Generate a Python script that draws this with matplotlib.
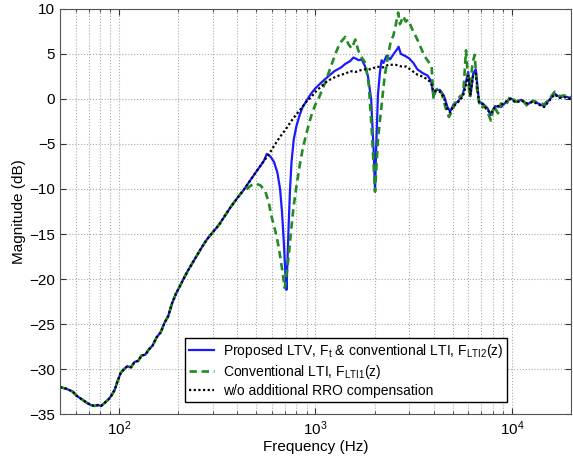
import matplotlib
matplotlib.use("Agg")
import matplotlib.pyplot as plt
from matplotlib.ticker import LogLocator, NullFormatter

plt.rcParams["font.family"] = ["Liberation Sans", "DejaVu Sans"]
plt.rcParams["mathtext.fontset"] = "custom"
plt.rcParams["mathtext.rm"] = "Liberation Sans"
plt.rcParams["mathtext.it"] = "Liberation Sans:italic"
plt.rcParams["mathtext.default"] = "regular"

# 低频段三条曲线重合的部分
freq_low = [50, 54, 58, 61, 65, 69, 72, 75, 78, 81, 84, 88, 91, 95, 98, 102,
            106, 110, 115, 120, 125, 130, 136, 142, 148, 155, 163, 170, 178,
            186, 195, 205, 215, 225, 238, 250, 265, 280, 300, 322, 345, 370, 400]
mag_low = [-32.0, -32.2, -32.5, -33.0, -33.4, -33.8, -34.0, -34.1, -34.0, -34.1,
           -33.8, -33.4, -33.0, -32.3, -31.4, -30.4, -30.0, -29.7, -29.8, -29.2,
           -29.1, -28.5, -28.4, -27.8, -27.4, -26.5, -25.9, -24.9, -24.1, -22.7,
           -21.6, -20.7, -19.8, -19.0, -18.1, -17.3, -16.4, -15.6, -14.8, -14.0,
           -13.0, -12.0, -11.0]

# 无附加RRO补偿
freq_wo = freq_low + [431, 470, 510, 545, 577, 620, 660, 704, 750, 800, 850, 900,
                      950, 1000, 1070, 1150, 1250, 1350, 1420, 1500, 1600, 1700,
                      1800, 1920, 2050, 2200, 2350, 2550, 2750, 2900, 3070, 3300,
                      3500, 3700, 3880, 3990, 4100, 4300, 4500, 4700, 4850, 5050,
                      5300, 5600, 5850, 5990, 6150, 6350, 6550, 6800, 7100, 7500,
                      7800, 8200, 8800, 9300, 9800, 10500, 11200, 12000, 12800,
                      13600, 14600, 15500, 16500, 17500, 18500, 20000]
mag_wo = mag_low + [-10.1, -8.9, -7.8, -6.9, -6.2, -5.1, -4.2, -3.4, -2.5, -1.7, -1.0,
                    -0.3, 0.2, 0.8, 1.4, 2.0, 2.4, 2.7, 2.8, 3.1, 3.0, 3.2, 3.3, 3.3,
                    3.6, 3.5, 3.8, 3.8, 3.6, 3.6, 3.2, 2.7, 2.5, 2.2, 1.8, 0.8, 0.9,
                    0.8, 0.2, -1.2, -1.5, -0.8, -0.4, 0.2, 1.5, 2.6, 0.5, 2.6, 2.8,
                    -0.4, -0.6, -1.2, -1.6, -0.9, -0.7, -0.3, 0.0, -0.4, -0.2, -0.5,
                    -0.3, -0.6, -0.9, -0.2, 0.5, 0.1, 0.2, 0.0]

# 提出的LTV方法
freq_ltv = freq_low + [431, 470, 510, 545, 565, 590, 615, 640, 660, 675, 690, 703,
                       712, 720, 730, 742, 755, 775, 800, 830, 860, 900, 950, 1000,
                       1080, 1160, 1250, 1350, 1420, 1500, 1560, 1600, 1660, 1720,
                       1790, 1850, 1920, 1980, 2010, 2040, 2080, 2130, 2170, 2220,
                       2300, 2400, 2500, 2600, 2650, 2720, 2850, 3000, 3150, 3300,
                       3500, 3720, 3880, 3990, 4100, 4300, 4500, 4700, 4850, 5050,
                       5300, 5600, 5850, 5990, 6150, 6350, 6550, 6800, 7100, 7500,
                       7800, 8200, 8800, 9300, 9800, 10500, 11200, 12000, 12800,
                       13600, 14600, 15500, 16500, 17500, 18500, 20000]
mag_ltv = mag_low + [-10.1, -8.9, -7.8, -6.9, -6.1, -6.4, -7.0, -8.2, -10.0, -12.5,
                     -16.0, -19.5, -21.2, -18.0, -14.0, -10.0, -7.0, -4.5, -3.0,
                     -1.8, -0.9, -0.2, 0.6, 1.2, 1.9, 2.5, 3.1, 3.5, 3.9, 4.2, 4.6,
                     4.5, 4.3, 4.4, 3.6, 2.5, 0.0, -6.0, -10.2, -5.0, 0.5, 3.0, 4.3,
                     4.0, 4.8, 4.4, 5.0, 5.5, 5.8, 5.0, 4.8, 4.5, 4.0, 3.3, 2.9, 2.6,
                     2.0, 0.3, 1.0, 1.0, 0.4, -0.9, -1.4, -0.6, -0.3, 0.4, 2.0, 3.0,
                     0.3, 2.8, 3.3, -0.3, -0.5, -1.0, -1.8, -0.8, -0.9, -0.4, 0.1,
                     -0.3, -0.1, -0.6, -0.2, -0.5, -0.8, -0.1, 0.6, 0.2, 0.3, 0.1]

# 传统LTI方法
freq_lti = freq_low + [420, 447, 470, 495, 525, 556, 578, 598, 625, 649, 675, 697,
                       712, 729, 750, 773, 800, 835, 865, 896, 930, 960, 1000, 1035,
                       1080, 1124, 1180, 1262, 1330, 1419, 1470, 1528, 1596, 1650,
                       1720, 1795, 1870, 1940, 2010, 2080, 2163, 2250, 2350, 2420,
                       2490, 2560, 2636, 2690, 2730, 2800, 2880, 2966, 3100, 3200,
                       3333, 3500, 3657, 3800, 3900, 3990, 4100, 4250, 4400, 4600,
                       4780, 4950, 5200, 5450, 5650, 5840, 5950, 6100, 6300, 6470,
                       6650, 6920, 7300, 7600, 7820, 8100, 8500, 8800, 9300, 9800,
                       10500, 11200, 12000, 12800, 13600, 14600, 15500, 16500,
                       17500, 18500, 20000]
mag_lti = mag_low + [-10.4, -10.0, -9.6, -9.4, -9.6, -10.3, -11.5, -13.1, -14.7,
                     -16.4, -18.8, -21.0, -19.5, -17.6, -14.8, -12.0, -9.7, -7.1,
                     -5.3, -4.0, -2.6, -1.6, -0.6, 0.0, 1.0, 1.9, 3.2, 5.0, 6.2, 6.9,
                     6.1, 5.6, 6.6, 5.4, 4.6, 4.0, 1.5, -4.0, -10.3, -4.5, -1.0, 2.5,
                     5.0, 6.5, 7.0, 8.2, 9.6, 8.3, 8.6, 9.2, 8.6, 8.8, 7.8, 7.2, 6.4,
                     5.3, 4.5, 4.0, 3.7, 0.0, 1.0, 1.2, 0.6, -1.0, -2.0, -1.4, -0.2,
                     0.3, 0.5, 5.4, 3.0, 0.2, 4.0, 4.9, 1.0, -1.0, -0.8, -1.7, -2.4,
                     -0.8, -1.6, -0.5, -0.8, 0.3, -0.3, 0.0, -0.8, -0.2, -0.4, -0.6,
                     0.0, 0.8, 0.3, 0.4, 0.2]

fig = plt.figure(figsize=(5.73, 4.70), dpi=100)
ax = fig.add_axes([0.1047, 0.119, 0.8918, 0.862])

ax.semilogx(freq_ltv, mag_ltv, color="#1a1aff", linewidth=1.6,
            label="Proposed LTV, F$_\\mathrm{t}$ & conventional LTI, F$_\\mathrm{LTI2}$(z)")
ax.semilogx(freq_lti, mag_lti, color="#228b22", linewidth=1.9, linestyle=(0, (2.8, 1.8)),
            label="Conventional LTI, F$_\\mathrm{LTI1}$(z)")
ax.semilogx(freq_wo, mag_wo, color="black", linewidth=1.6, linestyle=(0, (1, 1.1)),
            label="w/o additional RRO compensation")

ax.set_xlim(50, 2e4)
ax.set_ylim(-35, 10)
ax.set_yticks(range(-35, 11, 5))
ax.xaxis.set_major_locator(LogLocator(base=10))
ax.xaxis.set_minor_locator(LogLocator(base=10, subs=range(2, 10)))
ax.xaxis.set_minor_formatter(NullFormatter())

ax.grid(True, which="both", color="#aaaaaa", linestyle=":", linewidth=0.8)
ax.tick_params(which="both", direction="in", top=True, right=True, labelsize=11,
               colors="#333333", labelcolor="black")
ax.tick_params(which="major", length=4)
ax.tick_params(which="minor", length=2)
for s in ax.spines.values():
    s.set_color("#555555")

ax.set_xlabel("Frequency (Hz)", fontsize=11, labelpad=2)
ax.set_ylabel("Magnitude (dB)", fontsize=11, labelpad=2)

leg = ax.legend(loc="lower left", bbox_to_anchor=(0.245, 0.03), fontsize=10,
                fancybox=False, edgecolor="black", framealpha=1,
                handlelength=1.8, borderpad=0.3, labelspacing=0.2,
                handletextpad=0.6, borderaxespad=0)
leg.get_frame().set_linewidth(1.0)

fig.savefig("out.png", dpi=100)
